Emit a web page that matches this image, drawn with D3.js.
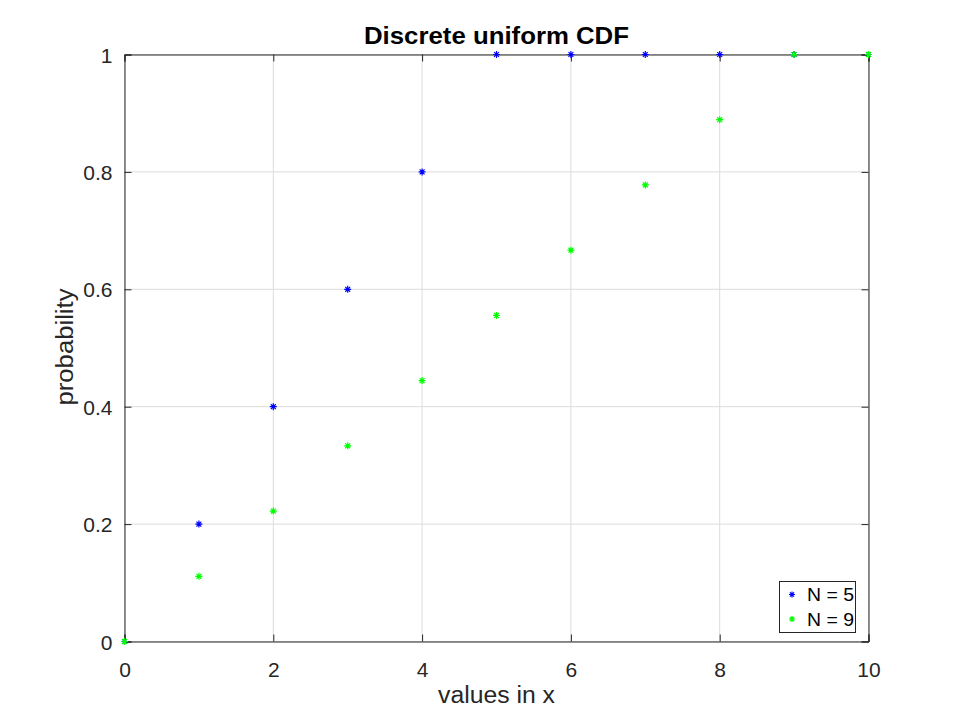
<!DOCTYPE html>
<html><head><meta charset="utf-8">
<script src="https://cdn.jsdelivr.net/npm/d3@7"></script>
<style>body{margin:0;background:#fff;} text{font-family:"Liberation Sans",Arial,sans-serif;}</style>
</head><body>
<svg id="c" width="960" height="720"></svg>
<script>
const xValues = [0,1,2,3,4,5,6,7,8,9,10];
const cdfN5 = [0,0.2,0.4,0.6,0.8,1,1,1,1,1,1];
const cdfN9 = [0,1/9,2/9,3/9,4/9,5/9,6/9,7/9,8/9,1,1];
const xTicks = [0,2,4,6,8,10];
const yTicks = [0,0.2,0.4,0.6,0.8,1];
const seriesNames = ["N = 5","N = 9"];
const seriesColors = ["#0000ff","#00ff00"];

const svg = d3.select("#c");
const L=124.5, R=868.5, T=54.5, B=641.5;
const x = d3.scaleLinear().domain([0,10]).range([L,R]);
const y = d3.scaleLinear().domain([0,1]).range([B,T]);

// grid
svg.append("g").selectAll("line").data(xTicks).join("line")
  .attr("x1",d=>x(d)).attr("x2",d=>x(d)).attr("y1",T).attr("y2",B)
  .attr("stroke","#dcdcdc").attr("stroke-width",1);
svg.append("g").selectAll("line").data(yTicks).join("line")
  .attr("y1",d=>y(d)).attr("y2",d=>y(d)).attr("x1",L).attr("x2",R)
  .attr("stroke","#dcdcdc").attr("stroke-width",1);

// axes
const xa = svg.append("g").attr("transform",`translate(0,${B})`)
  .call(d3.axisBottom(x).tickValues(xTicks).tickSize(-7).tickPadding(21).tickFormat(d3.format("")));
const xt = svg.append("g").attr("transform",`translate(0,${T})`)
  .call(d3.axisTop(x).tickValues(xTicks).tickSize(-7).tickFormat(""));
const ya = svg.append("g").attr("transform",`translate(${L},0)`)
  .call(d3.axisLeft(y).tickValues(yTicks).tickSize(-7).tickPadding(12).tickFormat(d=>d===0||d===1?String(d):d3.format(".1f")(d)));
const yr = svg.append("g").attr("transform",`translate(${R},0)`)
  .call(d3.axisRight(y).tickValues(yTicks).tickSize(-7).tickFormat(""));
[xa,xt,ya,yr].forEach(g=>{
  g.selectAll("path,line").attr("stroke","#262626");
  g.selectAll("text").attr("fill","#262626").style("font-size","21px").style("font-family","'Liberation Sans',Arial,sans-serif");
});
ya.selectAll("text").attr("dy","0.36em");

// markers (asterisk)
function star(g, cx, cy, color, s){
  const p = d3.path();
  p.moveTo(cx-s,cy); p.lineTo(cx+s,cy);
  p.moveTo(cx,cy-s); p.lineTo(cx,cy+s);
  const d=s*0.7;
  p.moveTo(cx-d,cy-d); p.lineTo(cx+d,cy+d);
  p.moveTo(cx-d,cy+d); p.lineTo(cx+d,cy-d);
  g.append("path").attr("d",p.toString()).attr("stroke",color).attr("stroke-width",1.2).attr("fill","none");
}
const series=[cdfN5,cdfN9];
series.forEach((vals,i)=>{
  const g=svg.append("g");
  xValues.forEach((xv,j)=>star(g,x(xv),y(vals[j]),seriesColors[i],3.5));
});

// title & labels
svg.append("text").attr("x",496.5).attr("y",44).attr("text-anchor","middle")
  .attr("textLength",265).attr("lengthAdjust","spacingAndGlyphs")
  .style("font-size","23px").style("font-weight","bold").attr("fill","#000").text("Discrete uniform CDF");
svg.append("text").attr("x",496.5).attr("y",703).attr("text-anchor","middle")
  .attr("textLength",117).attr("lengthAdjust","spacingAndGlyphs")
  .style("font-size","23px").attr("fill","#262626").text("values in x");
svg.append("text").attr("transform","translate(73,347) rotate(-90)").attr("text-anchor","middle")
  .attr("textLength",117).attr("lengthAdjust","spacingAndGlyphs")
  .style("font-size","23px").attr("fill","#262626").text("probability");

// legend
const lg=svg.append("g");
lg.append("rect").attr("x",779.5).attr("y",581.5).attr("width",76).attr("height",51)
  .attr("fill","#fff").attr("stroke","#262626").attr("stroke-width",1);
seriesNames.forEach((n,i)=>{
  const cy=594.5+i*24.5;
  star(lg,792,cy,seriesColors[i],3);
  lg.append("text").attr("x",807).attr("y",cy).attr("dy","0.36em")
    .attr("textLength",47).attr("lengthAdjust","spacingAndGlyphs")
    .style("font-size","19px").attr("fill","#000").text(n);
});
</script>
</body></html>
